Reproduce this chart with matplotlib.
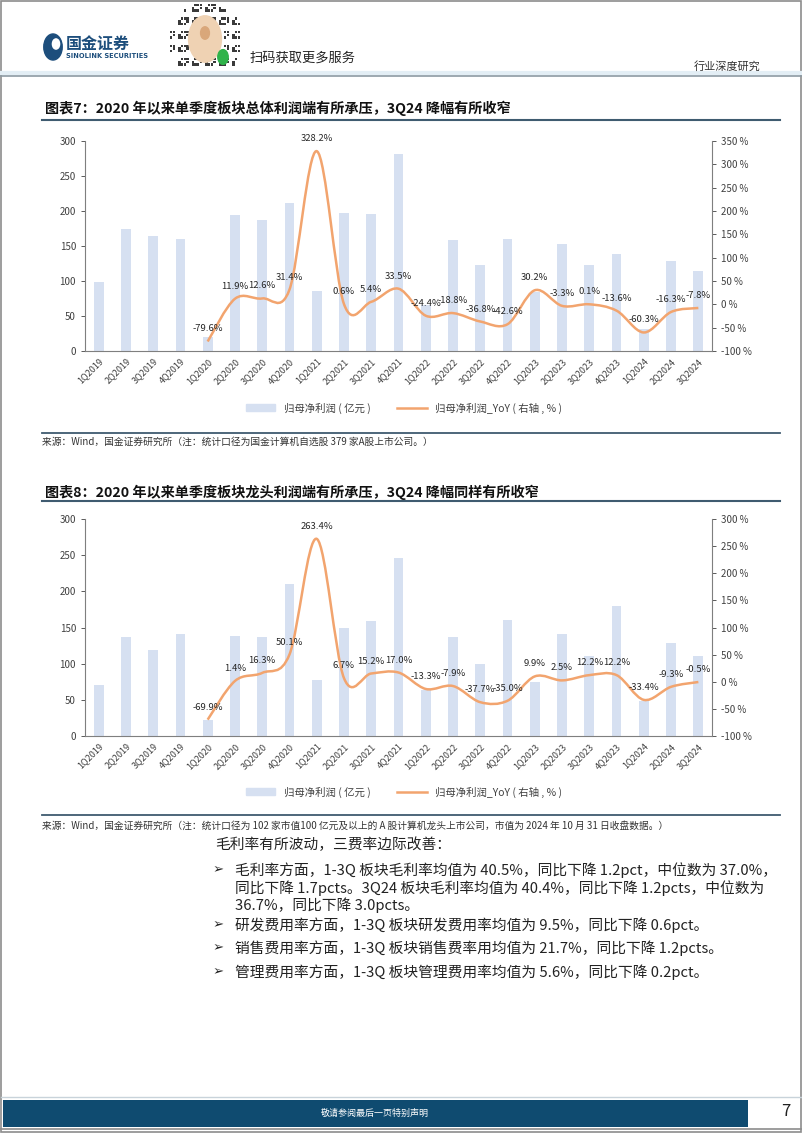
import numpy as np
import matplotlib.pyplot as plt
import matplotlib.lines as mlines
import matplotlib.patches as mpatches
from matplotlib.path import Path

plt.rcParams['font.family'] = ['Noto Sans CJK SC', 'DejaVu Sans']

W, H = 802, 1133

quarters = ['1Q2019', '2Q2019', '3Q2019', '4Q2019',
            '1Q2020', '2Q2020', '3Q2020', '4Q2020',
            '1Q2021', '2Q2021', '3Q2021', '4Q2021',
            '1Q2022', '2Q2022', '3Q2022', '4Q2022',
            '1Q2023', '2Q2023', '3Q2023', '4Q2023',
            '1Q2024', '2Q2024', '3Q2024']

# chart 7: whole sector (379 companies)
profit_total = [98, 175, 165, 160, 20, 195, 187, 211, 86, 197, 196, 281,
                66, 159, 123, 160, 85, 153, 123, 139, 32, 129, 114]
yoy_total = [-79.6, 11.9, 12.6, 31.4, 328.2, 0.6, 5.4, 33.5, -24.4, -18.8,
             -36.8, -42.6, 30.2, -3.3, 0.1, -13.6, -60.3, -16.3, -7.8]

# chart 8: leading companies (102 companies)
profit_top = [70, 137, 119, 141, 22, 138, 137, 210, 77, 149, 159, 246,
              64, 137, 99, 160, 75, 141, 111, 180, 49, 128, 111]
yoy_top = [-69.9, 1.4, 16.3, 50.1, 263.4, 6.7, 15.2, 17.0, -13.3, -7.9,
           -37.7, -35.0, 9.9, 2.5, 12.2, 12.2, -33.4, -9.3, -0.5]

yoy_start = 4  # YoY series starts at 1Q2020

BAR_C = '#d6e0f1'
LINE_C = '#f2a46e'
DARK = '#3f5b70'
TXT = '#404040'


def fx(x):
    return x / W


def fy(y):
    return 1 - y / H


def smooth_path(xs, ys):
    """Excel-like smoothed line: Catmull-Rom segments as cubic Beziers."""
    pts = np.column_stack([xs, ys]).astype(float)
    n = len(pts)
    verts = [pts[0]]
    codes = [Path.MOVETO]
    for i in range(n - 1):
        p0 = pts[max(i - 1, 0)]
        p1 = pts[i]
        p2 = pts[i + 1]
        p3 = pts[min(i + 2, n - 1)]
        c1 = p1 + (p2 - p0) / 6.0
        c2 = p2 - (p3 - p1) / 6.0
        verts += [c1, c2, p2]
        codes += [Path.CURVE4] * 3
    return Path(verts, codes)


def draw_chart(rect, profit, yoy, rmax):
    ax = fig.add_axes(rect)
    x = np.arange(len(quarters))
    ax.bar(x, profit, width=0.36, color=BAR_C, zorder=1)
    ax.set_xlim(-0.5, len(quarters) - 0.5)
    ax.set_ylim(0, 300)
    ax.set_yticks(np.arange(0, 301, 50))
    ax.set_xticks(x)
    ax.set_xticklabels(quarters, rotation=45, ha='right', va='top',
                       rotation_mode='anchor', fontsize=6.5, color=TXT)
    ax.tick_params(axis='x', length=0, pad=4)
    ax.tick_params(axis='y', labelsize=7, colors=TXT, length=3, width=0.6)
    for s in ['top', 'right']:
        ax.spines[s].set_visible(False)
    for s in ['left', 'bottom']:
        ax.spines[s].set_color('#7f7f7f')
        ax.spines[s].set_linewidth(0.8)

    ax2 = ax.twinx()
    ax2.set_ylim(-100, rmax)
    ax2.set_yticks(np.arange(-100, rmax + 1, 50))
    ax2.set_yticklabels([f'{v} %' for v in range(-100, rmax + 1, 50)])
    ax2.tick_params(axis='y', labelsize=7, colors=TXT, length=3, width=0.6)
    for s in ['top', 'left', 'bottom']:
        ax2.spines[s].set_visible(False)
    ax2.spines['right'].set_color('#7f7f7f')
    ax2.spines['right'].set_linewidth(0.8)

    xl = x[yoy_start:]
    path = smooth_path(xl, yoy)
    ax2.add_patch(mpatches.PathPatch(path, facecolor='none', edgecolor=LINE_C,
                                     lw=1.8, zorder=3))
    for xi, v in zip(xl, yoy):
        ax2.annotate(f'{v:.1f}%', (xi, v), xytext=(0, 9),
                     textcoords='offset points', ha='center', va='center',
                     fontsize=6.8, color='#262626', zorder=4)
    return ax


def legend_at(y):
    h = [mpatches.Patch(color=BAR_C, label='归母净利润 ( 亿元 )'),
         mlines.Line2D([], [], color=LINE_C, lw=1.8,
                       label='归母净利润_YoY ( 右轴 , % )')]
    fig.legend(handles=h, loc='center', bbox_to_anchor=(fx(404), fy(y)),
               ncol=2, frameon=False, fontsize=7.5, handlelength=2.8,
               handleheight=0.6, columnspacing=2.6, labelcolor=TXT)


def hline(y, x0, x1, color, lw):
    fig.add_artist(mlines.Line2D([fx(x0), fx(x1)], [fy(y), fy(y)],
                                 color=color, lw=lw))


fig = plt.figure(figsize=(W / 100, H / 100), dpi=100)

# page frame
fig.add_artist(mpatches.Rectangle((fx(1), fy(1132)), fx(800), 1131 / H,
                                  fill=False, edgecolor='#8c8c8c', lw=1.2))

# header
fig.add_artist(mpatches.Circle((fx(53), fy(47)), 0.0115, color='#1d4e7c'))
fig.add_artist(mpatches.Circle((fx(56), fy(44)), 0.0045, color='white'))
fig.text(fx(66), fy(44), '国金证券', fontsize=11.5, weight='bold',
         color='#1d4e7c', va='center')
fig.text(fx(66), fy(56), 'SINOLINK SECURITIES', fontsize=4.8, weight='bold',
         color='#1d4e7c', va='center', family='DejaVu Sans')
# QR code block (decorative pattern)
qr_n = 26
for i in range(qr_n):
    for j in range(qr_n):
        cx, cy = 170 + i * 2.7, 4 + j * 2.7
        r = np.hypot(cx - 205, cy - 39)
        if r < 19 or r > 37:
            continue
        if (i * i + 3 * j + i * j) % 5 < 2:
            fig.add_artist(mpatches.Rectangle((fx(cx), fy(cy + 2.4)), fx(2.4),
                                              2.4 / H, color='#3a3a3a', lw=0))
fig.add_artist(mpatches.Circle((fx(205), fy(39)), 0.0205, color='#efd2b3'))
fig.add_artist(mpatches.Circle((fx(205), fy(33)), 0.0055, color='#d9a77a'))
fig.add_artist(mpatches.Circle((fx(223), fy(57)), 0.0065, color='#2fb34a'))
fig.text(fx(250), fy(58), '扫码获取更多服务', fontsize=9.5, color='#222222',
         va='center')
fig.text(fx(760), fy(66), '行业深度研究', fontsize=8, color='#333333',
         va='center', ha='right')
hline(73, 1, 801, '#e3eef5', 3)
hline(75.5, 1, 801, '#8c9aa3', 1.2)

# chart 7
fig.text(fx(45), fy(108), '图表7：2020 年以来单季度板块总体利润端有所承压，3Q24 降幅有所收窄',
         fontsize=10.2, weight='bold', style='italic', va='center', color='#111111')
hline(119.5, 42, 780, DARK, 1.5)
draw_chart([fx(85), fy(351), fx(712 - 85), (351 - 141) / H],
           profit_total, yoy_total, 350)
legend_at(408)
hline(433, 42, 780, DARK, 1.3)
fig.text(fx(42), fy(442), '来源：Wind，国金证券研究所（注：统计口径为国金计算机自选股 379 家A股上市公司。）',
         fontsize=7, color='#333333', va='center')

# chart 8
fig.text(fx(45), fy(492), '图表8：2020 年以来单季度板块龙头利润端有所承压，3Q24 降幅同样有所收窄',
         fontsize=10.2, weight='bold', style='italic', va='center', color='#111111')
hline(501, 42, 780, DARK, 1.5)
draw_chart([fx(85), fy(736), fx(712 - 85), (736 - 519) / H],
           profit_top, yoy_top, 300)
legend_at(792)
hline(815, 42, 780, DARK, 1.3)
fig.text(fx(42), fy(826), '来源：Wind，国金证券研究所（注：统计口径为 102 家市值100 亿元及以上的 A 股计算机龙头上市公司，市值为 2024 年 10 月 31 日收盘数据。）',
         fontsize=7, color='#333333', va='center')

# body text
body = [
    (845, None, '毛利率有所波动，三费率边际改善：'),
    (870, '➢', '毛利率方面，1-3Q 板块毛利率均值为 40.5%，同比下降 1.2pct，中位数为 37.0%，'),
    (888, None, '同比下降 1.7pcts。3Q24 板块毛利率均值为 40.4%，同比下降 1.2pcts，中位数为'),
    (905, None, '36.7%，同比下降 3.0pcts。'),
    (925, '➢', '研发费用率方面，1-3Q 板块研发费用率均值为 9.5%，同比下降 0.6pct。'),
    (948, '➢', '销售费用率方面，1-3Q 板块销售费率用均值为 21.7%，同比下降 1.2pcts。'),
    (972, '➢', '管理费用率方面，1-3Q 板块管理费用率均值为 5.6%，同比下降 0.2pct。'),
]
for y, bullet, line in body:
    x0 = 215 if y == 845 else 235
    if bullet:
        fig.text(fx(213), fy(y), bullet, fontsize=9.5, color='#222222', va='center',
                 family=['DejaVu Sans'])
    fig.text(fx(x0), fy(y), line, fontsize=10.6, color='#222222', va='center')

# footer
hline(1097, 1, 801, '#c8d3da', 1)
fig.add_artist(mpatches.Rectangle((fx(3), fy(1127)), fx(745), 27 / H,
                                  color='#0f4b70', lw=0))
fig.text(fx(375), fy(1113), '敬请参阅最后一页特别声明', fontsize=6.5, color='white',
         ha='center', va='center')
fig.text(fx(786), fy(1112), '7', fontsize=12, color='#222222', ha='center',
         va='center')
hline(1129, 1, 801, '#8c8c8c', 1.2)

fig.savefig('out.png', dpi=100)
